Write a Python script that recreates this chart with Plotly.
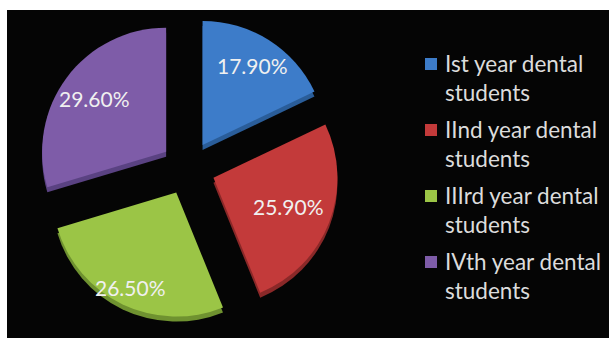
import math
import plotly.graph_objects as go

# Share of respondents by year of study
categories = [
    "Ist year dental students",
    "IInd year dental students",
    "IIIrd year dental students",
    "IVth year dental students",
]
legend_lines = [
    ["Ist year dental", "students"],
    ["IInd year dental", "students"],
    ["IIIrd year dental", "students"],
    ["IVth year dental", "students"],
]
shares = [17.9, 25.9, 26.5, 29.6]
colors = ["#3d7cc9", "#c33a3a", "#9bc546", "#7e5ca8"]
rim_colors = ["#2a5d99", "#8a2828", "#6f9230", "#5a4282"]

W, H = 609, 338

# Pie geometry in pixels
CX, CY = 188, 168       # centre of the un-pulled pie
PULL = 0.22
R = 124                 # slice radius
RIM = 5                 # depth of the darker rim under each slice
half = R * (1 + PULL)

# how far out (fraction of radius, from the slice tip) each value label sits
label_radius = [0.76, 0.65, 0.85, 0.72]


def domain(dy=0):
    return dict(
        x=[(CX - half) / W, (CX + half) / W],
        y=[1 - (CY + dy + half) / H, 1 - (CY + dy - half) / H],
    )


common = dict(
    labels=categories,
    values=shares,
    sort=False,
    direction="clockwise",
    rotation=0,
    pull=[PULL] * len(shares),
    textinfo="none",
    showlegend=False,
)

fig = go.Figure()
# darker copy slightly lower gives the slices some thickness
fig.add_trace(go.Pie(**common, domain=domain(RIM),
                     marker=dict(colors=rim_colors, line=dict(width=0)),
                     hoverinfo="skip"))
fig.add_trace(go.Pie(**common, domain=domain(0),
                     marker=dict(colors=colors, line=dict(width=0)),
                     hoverinfo="label+percent"))

# value labels placed along each slice bisector
annotations = []
total = sum(shares)
start = 0.0
for v, f in zip(shares, label_radius):
    mid = (start + v / 2) / total * 2 * math.pi
    start += v
    rr = R * (PULL + f)
    px = CX + rr * math.sin(mid)
    py = CY - rr * math.cos(mid)
    annotations.append(dict(
        x=px / W, y=1 - py / H, xref="paper", yref="paper",
        text=f"{v:.2f}%", showarrow=False,
        font=dict(family="Lato", size=21, color="#f0f0f0"),
        xanchor="center", yanchor="middle",
    ))

# legend: coloured square + two-line label
LEG_X, LEG_Y0, LEG_STEP, LINE_H = 425, 64, 66, 28
shapes = [
    dict(type="rect", xref="paper", yref="paper",
         x0=7 / W, x1=1, y0=0, y1=1 - 10 / H,
         fillcolor="#050505", line=dict(width=0), layer="below")
]
for i, (lines, c) in enumerate(zip(legend_lines, colors)):
    y1 = LEG_Y0 + i * LEG_STEP
    shapes.append(dict(
        type="rect", xref="paper", yref="paper",
        x0=LEG_X / W, x1=(LEG_X + 12) / W,
        y0=1 - (y1 + 6) / H, y1=1 - (y1 - 6) / H,
        fillcolor=c, line=dict(width=0), layer="above",
    ))
    annotations.append(dict(
        x=(LEG_X + 18) / W, y=1 - (y1 + LINE_H / 2) / H,
        xref="paper", yref="paper",
        text="<br>".join(lines), showarrow=False, align="left",
        font=dict(family="Lato", size=22.5, color="#dcdcdc"),
        xanchor="left", yanchor="middle",
    ))

fig.update_layout(
    width=W,
    height=H,
    margin=dict(l=0, r=0, t=0, b=0),
    paper_bgcolor="white",
    shapes=shapes,
    annotations=annotations,
)

fig.write_html("out.html")
